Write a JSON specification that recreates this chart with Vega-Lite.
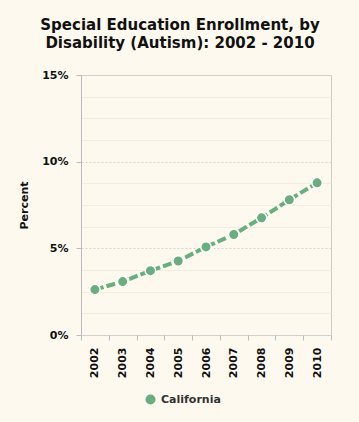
{
  "$schema": "https://vega.github.io/schema/vega-lite/v6.json",
  "width": 250,
  "height": 260,
  "autosize": {"type": "none"},
  "padding": {"left": 81, "top": 75, "right": 28, "bottom": 87},
  "background": "#FDF9EF",
  "config": {
    "view": {"stroke": "#cccccc", "fill": "#FDF9EF"},
    "font": "DejaVu Sans"
  },
  "title": {
    "text": ["Special Education Enrollment, by", "Disability (Autism): 2002 - 2010"],
    "font": "DejaVu Sans",
    "fontSize": 15,
    "fontWeight": "bold",
    "color": "#111111",
    "anchor": "middle",
    "dx": -26,
    "offset": 18,
    "lineHeight": 18
  },
  "data": {
    "values": [
      {"year": "2002", "pct": 2.62, "state": "California"},
      {"year": "2003", "pct": 3.08, "state": "California"},
      {"year": "2004", "pct": 3.71, "state": "California"},
      {"year": "2005", "pct": 4.27, "state": "California"},
      {"year": "2006", "pct": 5.08, "state": "California"},
      {"year": "2007", "pct": 5.80, "state": "California"},
      {"year": "2008", "pct": 6.76, "state": "California"},
      {"year": "2009", "pct": 7.80, "state": "California"},
      {"year": "2010", "pct": 8.78, "state": "California"}
    ]
  },
  "encoding": {
    "x": {
      "field": "year",
      "type": "ordinal",
      "scale": {"paddingInner": 0, "paddingOuter": 0},
      "axis": {
        "title": null,
        "tickBand": "extent",
        "tickSize": 5,
        "tickColor": "#bbbbbb",
        "domain": false,
        "grid": false,
        "labelAngle": -90,
        "labelAlign": "right",
        "labelBaseline": "middle",
        "labelPadding": 7,
        "labelFont": "DejaVu Sans",
        "labelFontSize": 11,
        "labelFontWeight": "bold",
        "labelColor": "#111111"
      }
    },
    "y": {
      "field": "pct",
      "type": "quantitative",
      "scale": {"domain": [0, 15], "nice": false},
      "axis": {
        "title": "Percent",
        "titleFont": "DejaVu Sans",
        "titleFontSize": 11,
        "titleFontWeight": "bold",
        "titleColor": "#111111",
        "titlePadding": 12,
        "values": [0, 1.25, 2.5, 3.75, 5, 6.25, 7.5, 8.75, 10, 11.25, 12.5, 13.75, 15],
        "labelExpr": "datum.value % 5 === 0 ? datum.value + '%' : ''",
        "labelFont": "DejaVu Sans",
        "labelFontSize": 11,
        "labelFontWeight": "bold",
        "labelColor": "#111111",
        "labelPadding": 8,
        "domainColor": "#bbbbbb",
        "tickColor": "#bbbbbb",
        "tickSize": 5,
        "tickOpacity": {"condition": {"test": "datum.value % 5 === 0", "value": 1}, "value": 0},
        "grid": true,
        "gridColor": {"condition": {"test": "datum.value % 5 === 0", "value": "#d4d4d4"}, "value": "#f3ede0"},
        "gridDash": {"condition": {"test": "datum.value % 5 === 0", "value": [2, 2]}, "value": []},
        "gridWidth": 1
      }
    }
  },
  "layer": [
    {
      "mark": {"type": "line", "strokeWidth": 4, "strokeDash": [9, 3], "color": "#6aae7f"}
    },
    {
      "mark": {"type": "point", "shape": "circle", "filled": true, "size": 110, "stroke": "white", "strokeWidth": 1.5, "opacity": 1},
      "encoding": {
        "color": {
          "field": "state",
          "type": "nominal",
          "scale": {"range": ["#6aae7f"]},
          "legend": {
            "title": null,
            "orient": "none",
            "legendX": 64,
            "legendY": 319,
            "padding": 0,
            "symbolType": "circle",
            "symbolSize": 100,
            "symbolStrokeWidth": 0,
            "symbolOpacity": 1,
            "labelFont": "DejaVu Sans",
            "labelFontSize": 11,
            "labelFontWeight": "bold",
            "labelColor": "#333333",
            "labelOffset": 5
          }
        }
      }
    }
  ]
}
